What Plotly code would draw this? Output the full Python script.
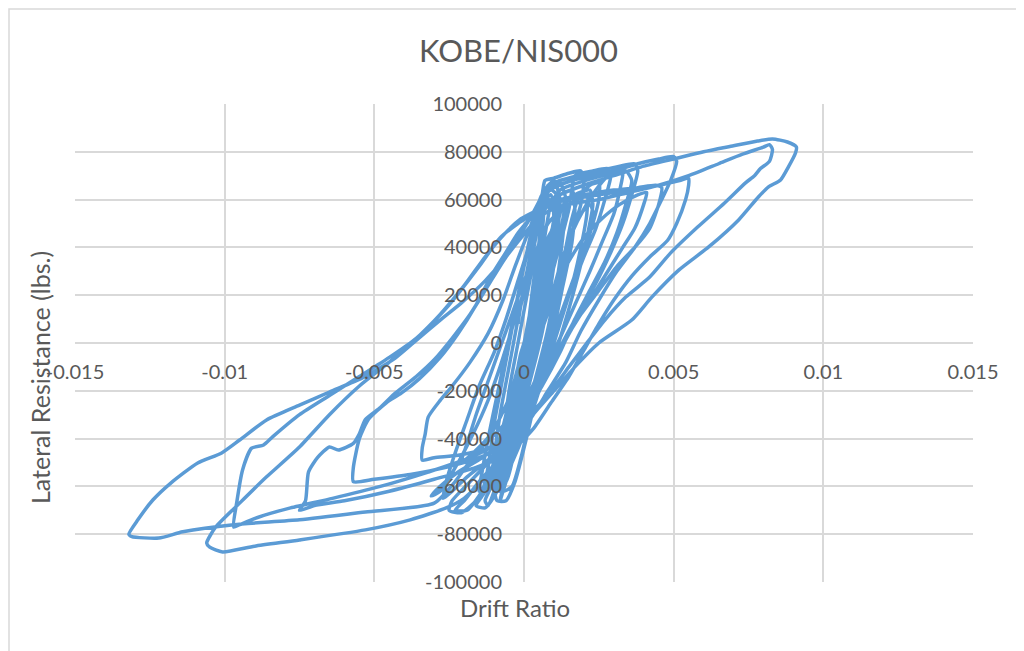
import plotly.graph_objects as go

# ---- data (drift ratio, lateral resistance in lbs) ----
seg0_drift = [0, 0.0002, 0.0004, 0.0001, -0.0002, -0.0004, -0.0001, 0.0003, 0.0006, 0.0003,
              -0.0002, -0.0006, -0.0003, 0.0002, 0.0007, 0.0009, 0.0005, 0.0, -0.0005, -0.0009,
              -0.0006, 0.0, 0.0005, 0.001, 0.0012, 0.0008, 0.0002, -0.0004, -0.001, -0.0012,
              -0.0008, -0.0002]
seg0_force = [0, 10000, 20000, 5000, -12000, -22000, -8000, 15000, 30000, 12000,
              -10000, -30000, -15000, 8000, 35000, 46000, 25000, 0, -28000, -46000,
              -30000, -3000, 25000, 50000, 56000, 38000, 10000, -22000, -50000, -58000,
              -42000, -12000]

seg1_drift = [0.0003, 0.0006, 0.0007, 0.0008, 0.0012, 0.0018, 0.0025, 0.0032, 0.0037, 0.0038,
              0.0036, 0.0033, 0.0029, 0.0024, 0.0018, 0.0012, 0.0007, 0.0002, -0.0004, -0.0012,
              -0.0022, -0.003, -0.0034, -0.0034, -0.0033, -0.0032, -0.0028, -0.0024, -0.0018, -0.0012,
              -0.0007, -0.0003, 0.0001, 0.0004, 0.0006]
seg1_force = [20000, 45000, 60000, 66000, 68000, 70000, 72000, 74000, 75000, 72000,
              62000, 50000, 38000, 25000, 12000, -2000, -15000, -28000, -38000, -44000,
              -47000, -48000, -49000, -44000, -38000, -31000, -24000, -18000, -8000, 4000,
              18000, 32000, 45000, 55000, 62000]

seg2_drift = [0.001, 0.0016, 0.0023, 0.003, 0.0038, 0.0045, 0.005, 0.0051, 0.0049, 0.0046,
              0.0042, 0.0037, 0.0031, 0.0025, 0.0019, 0.0014, 0.0008, 0.0002, -0.0005, -0.0015,
              -0.0026, -0.0038, -0.005, -0.0057, -0.0057, -0.0055, -0.0052, -0.0046, -0.0041, -0.0035,
              -0.0028, -0.0022, -0.0016, -0.0011, -0.0006, -0.0002, 0.0002, 0.0005]
seg2_force = [65000, 68000, 70000, 72000, 75000, 77000, 78000, 76000, 68000, 60000,
              50000, 40000, 30000, 18000, 5000, -8000, -20000, -32000, -42000, -48000,
              -52000, -55000, -57000, -58000, -52000, -40000, -32000, -25000, -21000, -15000,
              -6000, 4000, 16000, 28000, 38000, 46000, 52000, 56000]

seg3_drift = [0.0008, 0.0015, 0.0025, 0.0035, 0.0045, 0.0052, 0.0055, 0.0055, 0.0054, 0.0051,
              0.0048, 0.0042, 0.0036, 0.003, 0.0025, 0.002, 0.0015, 0.0009, 0.0003, -0.0005,
              -0.0016, -0.003, -0.0045, -0.006, -0.007, -0.0075, -0.0073, -0.0072, -0.0069, -0.0065,
              -0.0062, -0.0057, -0.0055, -0.0053, -0.0048, -0.0043, -0.0036, -0.003, -0.0024, -0.0018,
              -0.0012, -0.0006, -0.0001, 0.0003]
seg3_force = [58000, 60000, 62000, 64000, 66000, 68000, 69000, 66000, 60000, 50000,
              43000, 36000, 28000, 18000, 8000, -3000, -14000, -25000, -36000, -46000,
              -52000, -57000, -62000, -66000, -68000, -70000, -66000, -54000, -48000, -43500,
              -44800, -42000, -38000, -32000, -27000, -21000, -14000, -7000, 2000, 12000,
              24000, 36000, 44000, 50000]

seg4_drift = [0.0008, 0.0015, 0.0025, 0.0035, 0.0045, 0.0055, 0.0065, 0.0073, 0.008, 0.0082,
              0.0083, 0.0082, 0.0079, 0.0077, 0.0074, 0.0067, 0.0058, 0.0049, 0.0042, 0.0034,
              0.0027, 0.0021, 0.0015, 0.0009, 0.0002, -0.0006, -0.0018, -0.0032, -0.0048, -0.0064,
              -0.0078, -0.0089, -0.0095, -0.0097, -0.0096, -0.0094, -0.0091, -0.0087, -0.0084, -0.0075,
              -0.0065, -0.0055, -0.0045, -0.0036, -0.0028, -0.002, -0.0013, -0.0007, -0.0001]
seg4_force = [55000, 58000, 60000, 63000, 66000, 70000, 75000, 79000, 82000, 83000,
              81000, 76000, 73000, 70000, 67000, 58600, 48500, 37700, 27600, 19200,
              9600, 0, -10000, -20000, -30000, -40000, -48000, -54000, -60000, -65000,
              -69000, -73000, -76000, -77000, -67000, -53000, -44000, -42700, -39300, -30000,
              -22000, -14000, -6000, 2000, 12000, 24000, 36000, 45000, 52000]

seg5_drift = [0.0005, 0.0012, 0.002, 0.003, 0.004, 0.005, 0.006, 0.007, 0.0078, 0.0083,
              0.0088, 0.0091, 0.00907, 0.00883, 0.00857, 0.00817, 0.00783, 0.00717, 0.00617, 0.00517,
              0.00427, 0.0036, 0.0025, 0.0017, 0.001, 0.0003, -0.0004, -0.0012, -0.002, -0.0026,
              -0.0038, -0.0053, -0.0075, -0.009, -0.01007, -0.0105, -0.0106, -0.0103, -0.0095, -0.0086,
              -0.0075, -0.0065, -0.0055, -0.0045, -0.0035, -0.0025, -0.0015, -0.0008, -0.0002, 0.0003]
seg5_force = [56000, 62000, 66000, 70000, 74000, 77000, 80000, 82500, 84500, 85400,
              84100, 82000, 79500, 73600, 68200, 65300, 61100, 51500, 40200, 30500,
              19200, 9600, 0, -10000, -20000, -30000, -42000, -55000, -65000, -69000,
              -74000, -78200, -82400, -85000, -87400, -85400, -83700, -77000, -67000, -56000,
              -43500, -30000, -18000, -8000, 3000, 16000, 32000, 44000, 50000, 54000]

seg6_drift = [0.0006, 0.0012, 0.002, 0.003, 0.0038, 0.0044, 0.0046, 0.0045, 0.0042, 0.0037,
              0.0031, 0.0025, 0.0019, 0.0013, 0.0007, 0.0, -0.0008, -0.0016, -0.0023, -0.003,
              -0.0053, -0.0075, -0.0097, -0.0114, -0.0122, -0.0131, -0.0132, -0.0129, -0.0124, -0.0118,
              -0.0109, -0.0101, -0.0095, -0.0086, -0.0075, -0.0065, -0.0054, -0.0043, -0.0037, -0.0028,
              -0.0021, -0.0013, -0.0007, -0.0002, 0.00017]
seg6_force = [58000, 60000, 62000, 64000, 65000, 66000, 65000, 58000, 48000, 40000,
              32000, 22000, 12000, 0, -12000, -24000, -36000, -46000, -58000, -67000,
              -70700, -74000, -76000, -79000, -81600, -81000, -80000, -74000, -65700, -58600,
              -50200, -46000, -40600, -32200, -26000, -20500, -14600, -6300, 0, 9600,
              16700, 26000, 34700, 44000, 51500]

seg7_drift = [0.0006, 0.0007, 0.001, 0.0015, 0.0019, 0.002, 0.0019, 0.0016, 0.0013, 0.0009,
              0.0005, 0.0, -0.0004, -0.0008, -0.0011, -0.0014, -0.0016, -0.0013, -0.0009, -0.0006,
              -0.0003, 0.0001, 0.0004, 0.0008, 0.0012, 0.0016, 0.002, 0.0024, 0.0028, 0.0031,
              0.0033, 0.0032, 0.003, 0.0026, 0.0022, 0.0017, 0.0012, 0.0006, 0.0, -0.0006,
              -0.0012, -0.0018, -0.0024, -0.0025, -0.0021, -0.0016, -0.0012, -0.0008, -0.0004, 0.0,
              0.0004, 0.0009, 0.0014, 0.002, 0.0026, 0.0032, 0.0038, 0.0041, 0.004, 0.0037,
              0.0033, 0.0028, 0.0022, 0.0016, 0.001, 0.0004, -0.0002, -0.0008, -0.0015, -0.002,
              -0.0023, -0.0019, -0.0014, -0.001, -0.0006, -0.0002, 0.0002, 0.0006, 0.001, 0.0013,
              0.0015, 0.0016, 0.0017, 0.0023, 0.0028, 0.0029, 0.0027, 0.0024, 0.002, 0.0015,
              0.001, 0.0005, 0.0, -0.0005, -0.0009, -0.001, -0.0009, -0.0006, -0.0003, 0.0,
              0.0003, 0.0006, 0.0009, 0.0012, 0.0014, 0.0016, 0.0018, 0.0022, 0.0025, 0.0025,
              0.0023, 0.002, 0.0016, 0.0012, 0.0008, 0.0003, -0.0002, -0.0006, -0.0008, -0.0007,
              -0.0004, -0.0001, 0.0002, 0.0005, 0.0008, 0.0011, 0.0014, 0.0016, 0.0019, 0.0022,
              0.0023, 0.0021, 0.0018, 0.0014, 0.001, 0.0006, 0.0002, -0.0002, -0.0004, -0.0003,
              0.0, 0.0003, 0.0006, 0.0009, 0.0011, 0.0012, 0.001, 0.0006, 0.0002, -0.0001,
              0.0001, 0.0003, 0.0005, 0.0003, 0.0001]
seg7_force = [62000, 68000, 69000, 71000, 72000, 68000, 58000, 46000, 34000, 20000,
              5000, -12000, -28000, -44000, -56000, -64000, -68000, -69000, -62000, -50000,
              -36000, -20000, -4000, 14000, 32000, 46000, 56000, 64000, 70000, 73000,
              72000, 64000, 54000, 42000, 30000, 16000, 2000, -14000, -28000, -40000,
              -50000, -58000, -66000, -70000, -71000, -66000, -58000, -46000, -32000, -18000,
              -2000, 16000, 32000, 44000, 52000, 58000, 62000, 63000, 58000, 48000,
              40000, 30000, 18000, 6000, -8000, -22000, -36000, -48000, -58000, -66000,
              -70000, -70000, -62000, -50000, -36000, -20000, -4000, 14000, 32000, 46000,
              56000, 64000, 70000, 72000, 73000, 70000, 60000, 48000, 36000, 20000,
              4000, -12000, -26000, -40000, -52000, -60000, -66000, -66000, -58000, -44000,
              -28000, -10000, 8000, 26000, 40000, 52000, 60000, 66000, 67000, 60000,
              50000, 38000, 24000, 10000, -4000, -20000, -34000, -46000, -56000, -62000,
              -60000, -48000, -32000, -16000, 0, 18000, 34000, 46000, 54000, 58000,
              55000, 44000, 32000, 18000, 4000, -10000, -24000, -36000, -44000, -46000,
              -36000, -22000, -8000, 8000, 20000, 28000, 20000, 6000, -8000, -18000,
              -10000, 0, 8000, 2000, -2000]

seg8_drift = [0.0004, 0.0007, 0.0009, 0.0012, 0.0018, 0.0026, 0.0034, 0.0036, 0.0034, 0.0031,
              0.0027, 0.0022, 0.0017, 0.0012, 0.0006, 0.0, -0.0006, -0.0014, -0.0022, -0.0028,
              -0.0031, -0.0028, -0.0022, -0.0017, -0.0012, -0.0008, -0.0004, 0.0, 0.0003, 0.0005,
              0.0006, 0.0009, 0.0011, 0.001, 0.0008, 0.0005, 0.0002, -0.0002, -0.0006, -0.0009,
              -0.0011, -0.0008, -0.0005, -0.0002, 0.0001, 0.0004, 0.0007, 0.001, 0.0012, 0.0014,
              0.0013, 0.0011, 0.0008, 0.0004, 0.0, -0.0004, -0.0007, -0.0009, -0.0006, -0.0003,
              0.0, 0.0003, 0.0006, 0.0009, 0.0011, 0.0009, 0.0006, 0.0002, -0.0002, -0.0005,
              -0.0007, -0.0004, -0.0001, 0.0002, 0.0005, 0.0008, 0.0006, 0.0003, 0.0, -0.0003,
              -0.0001, 0.0002, 0.0004, 0.0001, -0.0001]
seg8_force = [20000, 45000, 58000, 64000, 67000, 70000, 72000, 68000, 58000, 46000,
              34000, 22000, 10000, -4000, -18000, -30000, -40000, -48000, -54000, -60000,
              -64000, -62000, -50000, -38000, -24000, -10000, 6000, 22000, 38000, 52000,
              60000, 64000, 62000, 52000, 38000, 20000, 2000, -16000, -34000, -50000,
              -60000, -62000, -52000, -36000, -16000, 4000, 24000, 42000, 54000, 60000,
              52000, 40000, 24000, 6000, -12000, -30000, -46000, -56000, -58000, -44000,
              -26000, -8000, 12000, 32000, 48000, 42000, 26000, 8000, -12000, -30000,
              -42000, -38000, -22000, -4000, 16000, 34000, 28000, 12000, -6000, -22000,
              -16000, 0, 12000, 2000, -6000]

seg9_drift = [-0.0004, -0.0008, -0.0011, -0.0013, -0.0014, -0.0012, -0.001, -0.0007, -0.0004, -0.0001,
              0.0002, 0.0005, 0.0008, 0.0012, 0.0014, 0.0013, 0.0011, 0.0008, 0.0004, 0.0,
              -0.0004, -0.0008, -0.0011, -0.001, -0.0008, -0.0005, -0.0002, 0.0001, 0.0004, 0.0006,
              0.0009, 0.001, 0.0009, 0.0007, 0.0004, 0.0, -0.0004, -0.0008, -0.0012, -0.0015,
              -0.0014, -0.0012, -0.0009, -0.0006, -0.0003, 0.0, 0.0003, 0.0007, 0.0012, 0.0016,
              0.0017, 0.0016, 0.0013, 0.001, 0.0006, 0.0002, -0.0002, -0.0005, -0.0007, -0.0008,
              -0.0006, -0.0004, -0.0002, 0.0001, 0.0003, 0.0005, 0.0006, 0.0007, 0.001, 0.0012,
              0.0011, 0.0009, 0.0006, 0.0002, -0.0002, -0.0006, -0.001, -0.0013, -0.0012, -0.0009,
              -0.0007, -0.0005, -0.0002, 0.0001, 0.0004, 0.0008, 0.0013, 0.0018, 0.0021, 0.0021,
              0.0019, 0.0016, 0.0012, 0.0008, 0.0004, 0.0, -0.0004, -0.0007, -0.0006, -0.0004,
              -0.0001, 0.0002, 0.0005, 0.0008, 0.0011, 0.001, 0.0008, 0.0005, 0.0002, -0.0002,
              -0.0005, -0.0007, -0.0005, -0.0002, 0.0001, 0.0004, 0.0006, 0.0004, 0.0001, -0.0002,
              -0.0001, 0.0]
seg9_force = [-20000, -40000, -55000, -62000, -64000, -52000, -34000, -14000, 6000, 26000,
              44000, 58000, 65000, 67000, 60000, 45000, 26000, 6000, -14000, -32000,
              -46000, -56000, -60000, -48000, -30000, -10000, 10000, 30000, 48000, 58000,
              62000, 52000, 36000, 18000, -2000, -22000, -40000, -52000, -58000, -62000,
              -54000, -40000, -22000, -4000, 14000, 32000, 46000, 56000, 62000, 64000,
              56000, 42000, 24000, 6000, -12000, -28000, -42000, -54000, -62000, -66000,
              -54000, -36000, -16000, 4000, 24000, 42000, 56000, 64000, 68000, 60000,
              44000, 24000, 4000, -16000, -34000, -48000, -58000, -66000, -68000, -58000,
              -40000, -20000, 0, 20000, 38000, 50000, 56000, 60000, 62000, 54000,
              40000, 24000, 8000, -8000, -24000, -38000, -50000, -58000, -46000, -28000,
              -8000, 12000, 30000, 44000, 50000, 40000, 26000, 10000, -6000, -22000,
              -34000, -40000, -28000, -12000, 4000, 18000, 28000, 16000, 2000, -10000,
              -4000, 0]

seg10_drift = [0.0004, 0.0008, 0.0012, 0.0017, 0.0022, 0.0023, 0.0021, 0.0018, 0.0014, 0.001,
               0.0005, 0.0, -0.0006, -0.0013, -0.0019, -0.0024, -0.0027, -0.0026, -0.0023, -0.0019,
               -0.0015, -0.001, -0.0006, -0.0002, 0.0002, 0.0005, 0.0008, 0.0011, 0.001, 0.0007,
               0.0003, -0.0001, -0.0006, -0.0011, -0.0017, -0.0021, -0.0019, -0.0016, -0.0012, -0.0008,
               -0.0004, 0.0, 0.0004, 0.0002, -0.0001, -0.0002]
seg10_force = [20000, 42000, 56000, 62000, 64000, 58000, 44000, 28000, 10000, -6000,
               -20000, -32000, -42000, -50000, -56000, -62000, -65000, -58000, -46000, -32000,
               -18000, -4000, 10000, 26000, 42000, 54000, 60000, 58000, 46000, 28000,
               8000, -10000, -26000, -38000, -46000, -50000, -42000, -30000, -16000, -2000,
               12000, 26000, 36000, 28000, 16000, 8000]

x_tick_values = [-0.015, -0.01, -0.005, 0, 0.005, 0.01, 0.015]
x_tick_labels = ["-0.015", "-0.01", "-0.005", "0", "0.005", "0.01", "0.015"]
y_tick_values = [-100000, -80000, -60000, -40000, -20000, 0, 20000, 40000, 60000, 80000, 100000]
y_tick_labels = ["-100000", "-80000", "-60000", "-40000", "-20000", "0",
                 "20000", "40000", "60000", "80000", "100000"]

drift = []
force = []
for d, f in [(seg0_drift, seg0_force), (seg1_drift, seg1_force), (seg2_drift, seg2_force),
             (seg3_drift, seg3_force), (seg4_drift, seg4_force), (seg5_drift, seg5_force),
             (seg6_drift, seg6_force), (seg7_drift, seg7_force), (seg8_drift, seg8_force),
             (seg9_drift, seg9_force), (seg10_drift, seg10_force)]:
    assert len(d) == len(f)
    drift += d
    force += f

# page body has an 8px margin: figure origin is at screen (8, 8)
OFF = 8
W, H = 1024 - OFF, 651 - OFF
# plot area in screen pixels
L, R, T, B = 75, 973, 104, 582


def px(xp):
    return (xp - L) / (R - L)


def py(yp):
    return (B - yp) / (B - T)


TXT = "#595959"
GRID = "#D9D9D9"
FONT = "Lato"

fig = go.Figure(go.Scatter(
    x=drift, y=force, mode="lines",
    line=dict(color="#5B9BD5", width=3.5, shape="spline", smoothing=0.6),
    hoverinfo="skip", showlegend=False))

fig.update_layout(
    width=W, height=H,
    margin=dict(l=L - OFF, r=(W + OFF) - R, t=T - OFF, b=(H + OFF) - B, pad=0),
    paper_bgcolor="white", plot_bgcolor="white",
    font=dict(family=FONT, color=TXT),
    xaxis=dict(range=[-0.015, 0.015], tickvals=x_tick_values, ticktext=x_tick_labels,
               showgrid=True, gridcolor=GRID, gridwidth=1.5, zeroline=False, showline=False,
               ticks="", anchor="free", position=0.5, ticklabelstandoff=15,
               tickfont=dict(family=FONT, size=20, color=TXT), fixedrange=True),
    yaxis=dict(range=[-100000, 100000], tickvals=y_tick_values, ticktext=y_tick_labels,
               showgrid=True, gridcolor=GRID, gridwidth=1.5, zeroline=False, showline=False,
               ticks="", anchor="free", position=0.5, ticklabelstandoff=22,
               tickfont=dict(family=FONT, size=20, color=TXT), fixedrange=True),
    annotations=[
        dict(text="KOBE/NIS000", x=px(518), y=py(50), xref="paper", yref="paper",
             showarrow=False, font=dict(family=FONT, size=31, color=TXT),
             xanchor="center", yanchor="middle"),
        dict(text="Drift Ratio", x=px(515), y=py(607), xref="paper", yref="paper",
             showarrow=False, font=dict(family=FONT, size=24, color=TXT),
             xanchor="center", yanchor="middle"),
        dict(text="Lateral Resistance (lbs.)", x=px(40), y=py(378), xref="paper", yref="paper",
             showarrow=False, textangle=-90, font=dict(family=FONT, size=25, color=TXT),
             xanchor="center", yanchor="middle"),
    ],
    shapes=[dict(type="rect", xref="paper", yref="paper",
                 x0=px(9), x1=px(1020), y0=py(680), y1=py(9),
                 line=dict(color=GRID, width=1.5), fillcolor="rgba(0,0,0,0)", layer="below")],
)

fig.write_html("out.html")
